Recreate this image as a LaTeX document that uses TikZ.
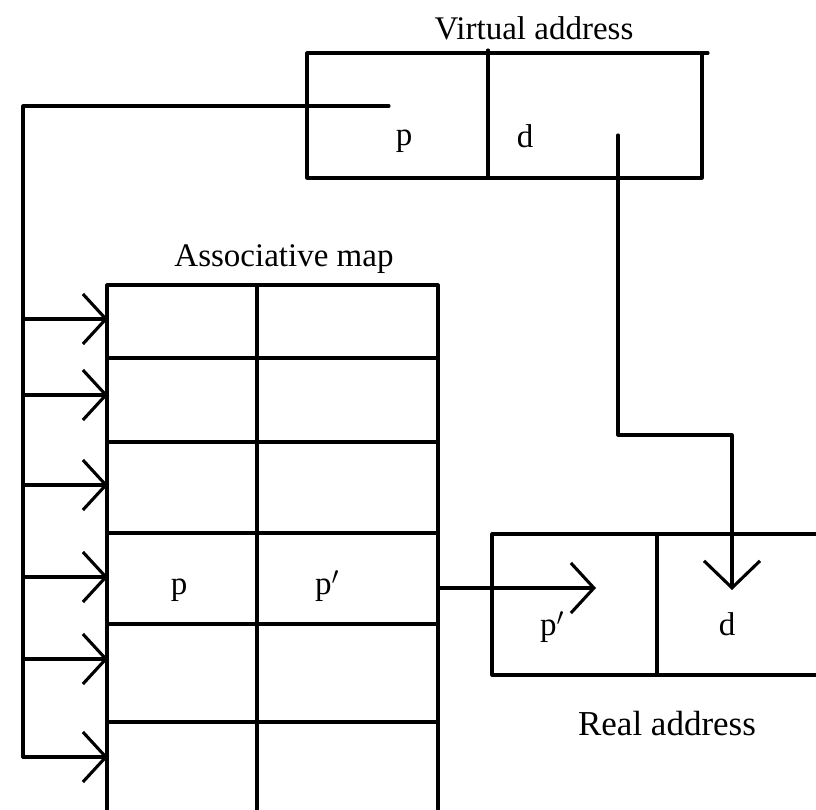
\documentclass[tikz,border=0pt]{standalone}
\usepackage{fontspec}
\setmainfont{Liberation Serif}
\usetikzlibrary{arrows.meta}
\begin{document}
\begin{tikzpicture}[x=1pt,y=-1pt,
  ln/.style={line width=3.1pt, line cap=round, line join=round},
  lbl/.style={inner sep=0pt, anchor=base, font=\fontsize{33}{40}\selectfont},
  chev/.style={ln, -{Straight Barb[length=23pt,width=50pt,line width=3.1pt]}},
  bigchev/.style={ln, -{Straight Barb[length=27pt,width=56pt,line width=3.1pt]}}]
\useasboundingbox (0,0) rectangle (816,810);
% ---------- Virtual address ----------
\node[lbl] (vlabel) at (534,40) {Virtual address};
\draw[ln] (702,53) -- (307,53) -- (307,178) -- (702,178) -- (702,53);
\draw[ln] (702,53) -- (708,53);
\draw[ln] (488,50) -- (488,178);
\node[lbl] (vp) at (404,146) {p};
\node[lbl] (vd) at (525,148) {d};
% ---------- Associative map ----------
\node[lbl] (mlabel) at (284,267) {Associative map};
\draw[ln] (107,810) -- (107,285) -- (438,285) -- (438,810);
\draw[ln] (257,285) -- (257,810);
\foreach \yy in {358,442,533,624,722} \draw[ln] (107,\yy) -- (438,\yy);
\node[lbl] (mp) at (179,594) {p};
\node[lbl] (mpp) at (327,594) {p$'$};
% ---------- Real address ----------
\draw[ln] (816,534) -- (492,534) -- (492,675) -- (816,675);
\draw[ln] (657,534) -- (657,675);
\node[lbl] (rp) at (552,635) {p$'$};
\node[lbl] (rd) at (727,635) {d};
\node[lbl,font=\fontsize{35}{42}\selectfont] (rlabel) at (667,735) {Real address};
% ---------- connectors ----------
\coordinate (pstart) at (389,106);
\coordinate (btop) at (23,106);
\coordinate (bbot) at (23,757);
\draw[ln] (pstart) -- (btop) -- (bbot);
\foreach \yy/\nm in {319/a1,395/a2,485/a3,577/a4,659/a5,757/a6}{
  \coordinate (s\nm) at (23,\yy);
  \coordinate (t\nm) at (108,\yy);
  \draw[chev] (s\nm) -- (t\nm);
}
\coordinate (mout) at (438,588);
\coordinate (rin) at (596,588);
\draw[chev] (mout) -- (rin);
\coordinate (dstart) at (618,135);
\coordinate (dbend1) at (618,435);
\coordinate (dbend2) at (732,435);
\coordinate (dend) at (732,590);
\draw[bigchev] (dstart) -- (dbend1) -- (dbend2) -- (dend);
\end{tikzpicture}
\end{document}
